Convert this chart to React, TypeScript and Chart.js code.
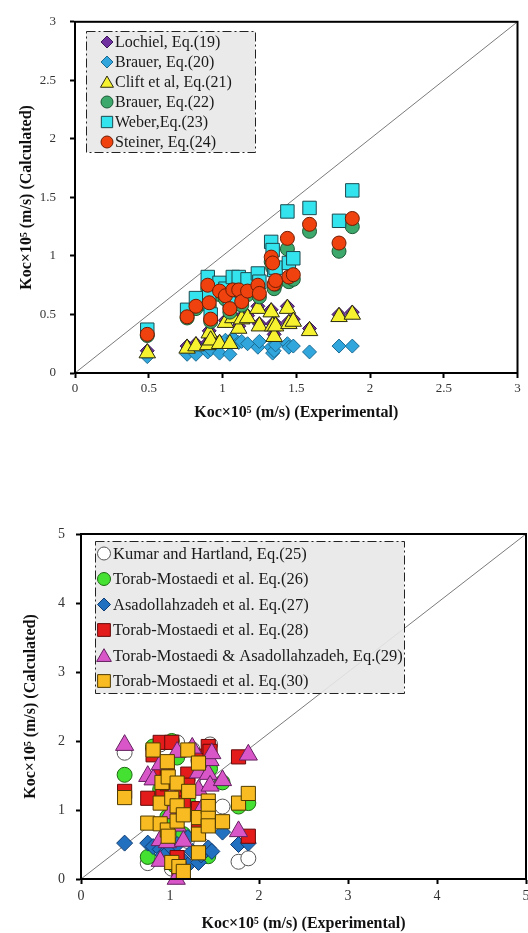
import React, { useEffect, useRef } from 'react';
import { Chart, registerables } from 'chart.js';

Chart.register(...registerables);

const FONT = "'Liberation Serif', 'Times New Roman', serif";

// ---------- Top chart data ----------
const topTicks = [0, 0.5, 1, 1.5, 2, 2.5, 3];
const expX = [0.49, 0.76, 0.82, 0.90, 0.91, 0.92, 0.98, 1.02, 1.05, 1.07, 1.11, 1.13, 1.17, 1.24, 1.25, 1.33, 1.34, 1.35, 1.36, 1.44, 1.45, 1.48, 1.59, 1.79, 1.88];
const lochiel = [0.19, 0.23, 0.25, 0.26, 0.36, 0.30, 0.27, 0.45, 0.27, 0.49, 0.40, 0.48, 0.49, 0.57, 0.42, 0.54, 0.42, 0.33, 0.42, 0.57, 0.44, 0.46, 0.38, 0.50, 0.52];
const brauer20 = [0.14, 0.16, 0.16, 0.18, 0.25, 0.20, 0.17, 0.28, 0.16, 0.30, 0.26, 0.27, 0.25, 0.22, 0.27, 0.22, 0.17, 0.19, 0.24, 0.25, 0.22, 0.23, 0.18, 0.23, 0.23];
const clift = [0.17, 0.21, 0.23, 0.24, 0.34, 0.28, 0.25, 0.43, 0.25, 0.47, 0.38, 0.46, 0.47, 0.55, 0.40, 0.52, 0.40, 0.31, 0.40, 0.55, 0.42, 0.44, 0.36, 0.48, 0.50];
const brauer22 = [0.32, 0.47, 0.55, 0.72, 0.57, 0.44, 0.67, 0.63, 0.52, 0.68, 0.68, 0.58, 0.67, 0.72, 0.65, 0.95, 0.90, 0.72, 0.76, 1.06, 0.78, 0.80, 1.21, 1.04, 1.25];
const weber = [0.37, 0.54, 0.64, 0.82, 0.66, 0.50, 0.77, 0.72, 0.60, 0.82, 0.82, 0.70, 0.80, 0.85, 0.78, 1.12, 1.05, 0.88, 0.90, 1.38, 0.94, 0.98, 1.41, 1.30, 1.56];
const steiner = [0.33, 0.48, 0.57, 0.75, 0.60, 0.46, 0.70, 0.66, 0.55, 0.71, 0.71, 0.61, 0.70, 0.75, 0.68, 0.99, 0.94, 0.76, 0.79, 1.15, 0.82, 0.84, 1.27, 1.11, 1.32];

// ---------- Bottom chart data ----------
const bottomTicks = [0, 1, 2, 3, 4, 5];
const kumarX = [0.49, 0.75, 0.81, 0.89, 0.97, 1.02, 1.08, 1.10, 1.15, 1.20, 1.25, 1.32, 1.35, 1.42, 1.45, 1.59, 1.77, 1.88];
const kumarY = [1.83, 0.23, 1.90, 1.95, 1.30, 0.15, 1.98, 0.25, 0.30, 0.55, 1.88, 1.72, 0.50, 1.40, 1.95, 1.05, 0.25, 0.30];
const torab26X = [0.49, 0.75, 0.81, 0.89, 0.97, 1.02, 1.05, 1.08, 1.10, 1.15, 1.20, 1.32, 1.43, 1.45, 1.59, 1.77, 1.88];
const torab26Y = [1.51, 0.32, 1.92, 1.30, 0.90, 2.00, 0.20, 1.76, 1.25, 0.65, 1.13, 0.35, 0.33, 1.60, 1.40, 1.05, 1.10];
const asad27X = [0.49, 0.75, 0.81, 0.89, 0.92, 0.97, 1.02, 1.05, 1.08, 1.13, 1.20, 1.20, 1.25, 1.32, 1.35, 1.43, 1.47, 1.59, 1.77, 1.88];
const asad27Y = [0.52, 0.52, 0.47, 0.43, 0.35, 0.38, 0.45, 0.25, 0.50, 0.30, 0.20, 0.60, 0.40, 0.24, 0.35, 0.45, 0.40, 0.68, 0.50, 0.52];
const torab28X = [0.49, 0.75, 0.81, 0.89, 0.89, 0.92, 0.97, 0.97, 1.02, 1.08, 1.08, 1.10, 1.15, 1.20, 1.20, 1.32, 1.32, 1.32, 1.43, 1.45, 1.77, 1.88];
const torab28Y = [1.27, 1.17, 1.80, 1.98, 1.50, 1.20, 1.60, 1.38, 1.98, 1.30, 0.31, 0.15, 1.10, 1.52, 1.36, 1.78, 1.02, 0.70, 1.92, 1.85, 1.77, 0.62];
const torabAsad29X = [0.49, 0.75, 0.81, 0.89, 0.89, 0.89, 0.97, 1.00, 1.02, 1.07, 1.08, 1.08, 1.15, 1.25, 1.32, 1.32, 1.35, 1.43, 1.45, 1.45, 1.47, 1.59, 1.77, 1.88];
const torabAsad29Y = [1.94, 1.49, 1.44, 1.66, 0.56, 0.26, 0.53, 0.95, 1.21, 0.00, 1.84, 0.77, 0.55, 1.90, 1.54, 1.29, 1.00, 1.52, 1.72, 1.35, 1.82, 1.43, 0.69, 1.80];
const torab30X = [0.49, 0.75, 0.81, 0.89, 0.89, 0.91, 0.97, 0.98, 0.97, 0.98, 1.02, 1.02, 1.08, 1.08, 1.08, 1.10, 1.15, 1.15, 1.20, 1.21, 1.32, 1.32, 1.32, 1.32, 1.43, 1.43, 1.43, 1.43, 1.59, 1.77, 1.88];
const torab30Y = [1.18, 0.81, 1.87, 1.10, 0.80, 1.40, 1.70, 1.48, 0.71, 0.62, 0.24, 1.17, 1.39, 1.06, 0.84, 0.18, 0.93, 0.11, 1.87, 1.27, 1.68, 0.89, 0.65, 0.38, 1.13, 1.05, 0.88, 0.77, 0.83, 1.10, 1.24];

const pts = (xs: number[], ys: number[]) => xs.map((x, i) => ({ x, y: ys[i] }));

function drawMarker(ctx: CanvasRenderingContext2D, style: string, cx: number, cy: number, r: number) {
  ctx.beginPath();
  if (style === 'circle') {
    ctx.arc(cx, cy, r, 0, Math.PI * 2);
  } else if (style === 'rect') {
    const s = r * Math.SQRT1_2;
    ctx.rect(cx - s, cy - s, 2 * s, 2 * s);
  } else if (style === 'rectRot') {
    ctx.moveTo(cx, cy - r);
    ctx.lineTo(cx + r, cy);
    ctx.lineTo(cx, cy + r);
    ctx.lineTo(cx - r, cy);
    ctx.closePath();
  } else if (style === 'triangle') {
    ctx.moveTo(cx, cy - r);
    ctx.lineTo(cx + r * 0.866, cy + r * 0.5);
    ctx.lineTo(cx - r * 0.866, cy + r * 0.5);
    ctx.closePath();
  }
  ctx.fill();
  ctx.stroke();
}

type LegendCfg = { x: number; y: number; w: number; h: number; firstRow: number; rowH: number; markerX: number; textX: number; fontSize: number; markerR: Record<string, number> };

function boxLegend(cfg: LegendCfg) {
  return {
    id: 'boxLegend',
    afterDatasetsDraw(chart: any) {
      const ctx: CanvasRenderingContext2D = chart.ctx;
      ctx.save();
      ctx.fillStyle = 'rgba(232,232,232,0.9)';
      ctx.fillRect(cfg.x, cfg.y, cfg.w, cfg.h);
      ctx.setLineDash([9, 3, 2, 3]);
      ctx.lineWidth = 1;
      ctx.strokeStyle = '#222';
      ctx.strokeRect(cfg.x + 0.5, cfg.y + 0.5, cfg.w, cfg.h);
      ctx.setLineDash([]);
      let row = 0;
      chart.data.datasets.forEach((ds: any) => {
        if (!ds.legendLabel) return;
        const cy = cfg.firstRow + row * cfg.rowH;
        ctx.fillStyle = ds.backgroundColor;
        ctx.strokeStyle = ds.borderColor;
        ctx.lineWidth = 1;
        const r = cfg.markerR[ds.pointStyle] || 6;
        const dy = ds.pointStyle === 'triangle' ? r * 0.2 : 0;
        drawMarker(ctx, ds.pointStyle, cfg.markerX, cy + dy, r);
        ctx.fillStyle = '#1a1a1a';
        ctx.font = `${cfg.fontSize}px ${FONT}`;
        ctx.textBaseline = 'middle';
        ctx.textAlign = 'left';
        ctx.fillText(ds.legendLabel, cfg.textX, cy + 1);
        row++;
      });
      ctx.restore();
    },
  };
}

const framePlugin = {
  id: 'frame',
  afterDraw(chart: any) {
    const { left, top, right, bottom } = chart.chartArea;
    const ctx = chart.ctx;
    ctx.save();
    ctx.strokeStyle = '#000';
    ctx.lineWidth = 2;
    ctx.strokeRect(left, top, right - left, bottom - top);
    ctx.restore();
  },
};

type Opts = {
  datasets: any[];
  max: number;
  ticks: number[];
  padding: any;
  yWidth: number;
  xHeight: number;
  xTickPad: number;
  yTickPad: number;
  xTitlePad: number;
  yTitlePad: number;
  tickSize: number;
  titleSize: number;
  legend: LegendCfg;
};

function makeConfig(o: Opts): any {
  const gridCfg = { display: true, drawOnChartArea: false, drawTicks: true, tickLength: 5, tickColor: '#000', tickWidth: 2 };
  const borderCfg = { display: true, color: '#000', width: 2 };
  const tickFont = { family: FONT, size: o.tickSize };
  const titleFont = { family: FONT, size: o.titleSize, weight: 'bold' as const };
  const fmt = (v: any) => String(Math.round(Number(v) * 100) / 100);
  return {
    type: 'scatter',
    data: { datasets: o.datasets },
    options: {
      responsive: false,
      animation: false,
      devicePixelRatio: 1,
      events: [],
      layout: { padding: o.padding },
      plugins: { legend: { display: false }, tooltip: { enabled: false } },
      scales: {
        x: {
          type: 'linear',
          min: 0,
          max: o.max,
          afterBuildTicks: (s: any) => { s.ticks = o.ticks.map((v) => ({ value: v })); },
          afterFit: (s: any) => { s.height = o.xHeight; },
          ticks: { font: tickFont, color: '#333', padding: o.xTickPad, maxRotation: 0, callback: fmt },
          grid: gridCfg,
          border: borderCfg,
          title: { display: true, text: 'Koc×10⁵ (m/s) (Experimental)', font: titleFont, color: '#111', padding: { top: 0, bottom: o.xTitlePad } },
        },
        y: {
          type: 'linear',
          min: 0,
          max: o.max,
          afterBuildTicks: (s: any) => { s.ticks = o.ticks.map((v) => ({ value: v })); },
          afterFit: (s: any) => { s.width = o.yWidth; },
          ticks: { font: tickFont, color: '#333', padding: o.yTickPad, callback: fmt },
          grid: gridCfg,
          border: borderCfg,
          title: { display: true, text: 'Koc×10⁵ (m/s) (Calculated)', font: titleFont, color: '#111', padding: { top: o.yTitlePad, bottom: 0 } },
        },
      },
    },
    plugins: [framePlugin, boxLegend(o.legend)],
  };
}

function sds(label: string, data: any[], style: string, bg: string, bd: string, r: number, order: number) {
  return {
    legendLabel: label,
    data,
    pointStyle: style,
    backgroundColor: bg,
    borderColor: bd,
    pointBackgroundColor: bg,
    pointBorderColor: bd,
    pointBorderWidth: 1,
    pointRadius: r,
    order,
    clip: false,
    showLine: false,
  };
}

function diagonal(max: number) {
  return {
    data: [{ x: 0, y: 0 }, { x: max, y: max }],
    showLine: true,
    borderColor: '#7a7a7a',
    borderWidth: 1,
    pointRadius: 0,
    order: 99,
    clip: false,
  };
}

function topConfig() {
  return makeConfig({
    datasets: [
      sds('Lochiel, Eq.(19)', pts(expX, lochiel), 'rectRot', '#7030a0', '#3a1858', 7, 5),
      sds('Brauer, Eq.(20)', pts(expX, brauer20), 'rectRot', '#30a6dc', '#1a6a92', 7, 4),
      sds('Clift et al, Eq.(21)', pts(expX, clift), 'triangle', '#f6f230', '#2a2a10', 9.5, 3),
      sds('Brauer, Eq.(22)', pts(expX, brauer22), 'circle', '#3ca86c', '#1c5a36', 7, 2),
      sds('Weber,Eq.(23)', pts(expX, weber), 'rect', '#33e4ee', '#1b4a50', 9.5, 1),
      sds('Steiner, Eq.(24)', pts(expX, steiner), 'circle', '#f0420e', '#6e1c04', 7, 0),
      diagonal(3),
    ],
    max: 3,
    ticks: topTicks,
    padding: { left: 0, right: 8, top: 20, bottom: 0 },
    yWidth: 75,
    xHeight: 67,
    xTickPad: 3,
    yTickPad: 14,
    xTitlePad: 18,
    yTitlePad: 17,
    tickSize: 13,
    titleSize: 16,
    legend: { x: 86, y: 31, w: 169, h: 121, firstRow: 42, rowH: 20, markerX: 107, textX: 115, fontSize: 16, markerR: { rectRot: 6, triangle: 7.5, circle: 6, rect: 8 } },
  });
}

function bottomConfig() {
  return makeConfig({
    datasets: [
      sds('Kumar and Hartland, Eq.(25)', pts(kumarX, kumarY), 'circle', '#ffffff', '#555555', 7.5, 5),
      sds('Torab-Mostaedi et al. Eq.(26)', pts(torab26X, torab26Y), 'circle', '#44e032', '#1e6a14', 7.5, 4),
      sds('Asadollahzadeh et al. Eq.(27)', pts(asad27X, asad27Y), 'rectRot', '#2270c0', '#0f3c72', 8, 3),
      sds('Torab-Mostaedi et al. Eq.(28)', pts(torab28X, torab28Y), 'rect', '#e31b1b', '#640a0a', 10, 2),
      sds('Torab-Mostaedi & Asadollahzadeh, Eq.(29)', pts(torabAsad29X, torabAsad29Y), 'triangle', '#d856c8', '#642060', 10.5, 1),
      sds('Torab-Mostaedi et al. Eq.(30)', pts(torab30X, torab30Y), 'rect', '#f8bc22', '#4e3a00', 10, 0),
      diagonal(5),
    ],
    max: 5,
    ticks: bottomTicks,
    padding: { left: 0, right: 14, top: 94, bottom: 0 },
    yWidth: 81,
    xHeight: 54,
    xTickPad: 4,
    yTickPad: 11,
    xTitlePad: 0,
    yTitlePad: 21,
    tickSize: 14,
    titleSize: 16,
    legend: { x: 95, y: 101, w: 309, h: 152, firstRow: 113.5, rowH: 25.5, markerX: 104, textX: 113, fontSize: 16.5, markerR: { rectRot: 6.5, triangle: 8.5, circle: 6.5, rect: 9 } },
  });
}

function ChartCanvas({ make, width, height, top }: { make: () => any; width: number; height: number; top: number }) {
  const ref = useRef<HTMLCanvasElement | null>(null);
  useEffect(() => {
    if (!ref.current) return;
    const chart = new Chart(ref.current, make());
    return () => chart.destroy();
  }, [make]);
  return (
    <canvas
      ref={ref}
      width={width}
      height={height}
      style={{ position: 'absolute', left: 0, top, width, height, display: 'block' }}
    />
  );
}

export default function App() {
  return (
    <div style={{ position: 'fixed', left: 0, top: 0, width: 528, height: 933, overflow: 'hidden', background: '#fff' }}>
      <ChartCanvas make={topConfig} width={528} height={440} top={0} />
      <ChartCanvas make={bottomConfig} width={540} height={493} top={440} />
    </div>
  );
}
